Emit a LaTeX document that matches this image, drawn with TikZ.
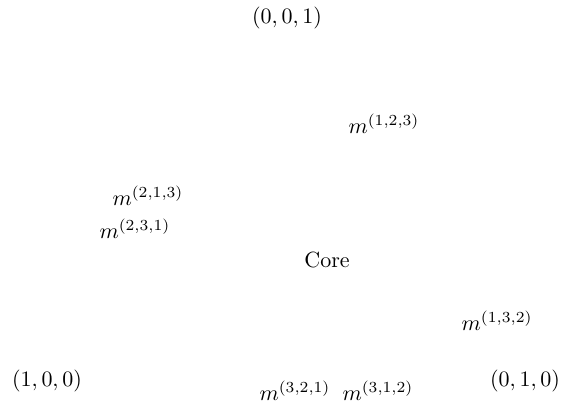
\documentclass[tikz,border=0pt]{standalone}
\usepackage{tikz}
\usetikzlibrary{positioning}

\begin{document}
\begin{tikzpicture}[
        vtx/.style={inner sep=1pt},
        reg/.style={inner sep=1pt}]
      \useasboundingbox (0,0) rectangle (8.98,6.615);
      \node[vtx] (e3) at (4.586,6.327) {$(0,0,1)$};
      \node[vtx] (e1) at (0.751,0.527) {$(1,0,0)$};
      \node[vtx] (e2) at (8.389,0.527) {$(0,1,0)$};
      \node[reg] (m123) at (6.136,4.634) {$m^{(1,2,3)}$};
      \node[reg] (m213) at (2.365,3.483) {$m^{(2,1,3)}$};
      \node[reg] (m231) at (2.157,2.956) {$m^{(2,3,1)}$};
      \node[reg] (m132) at (7.942,1.486) {$m^{(1,3,2)}$};
      \node[reg] (m321) at (4.714,0.367) {$m^{(3,2,1)}$};
      \node[reg] (m312) at (6.040,0.367) {$m^{(3,1,2)}$};
      \node (core) at (5.225,2.460) {Core};
      \end{tikzpicture}
\end{document}
